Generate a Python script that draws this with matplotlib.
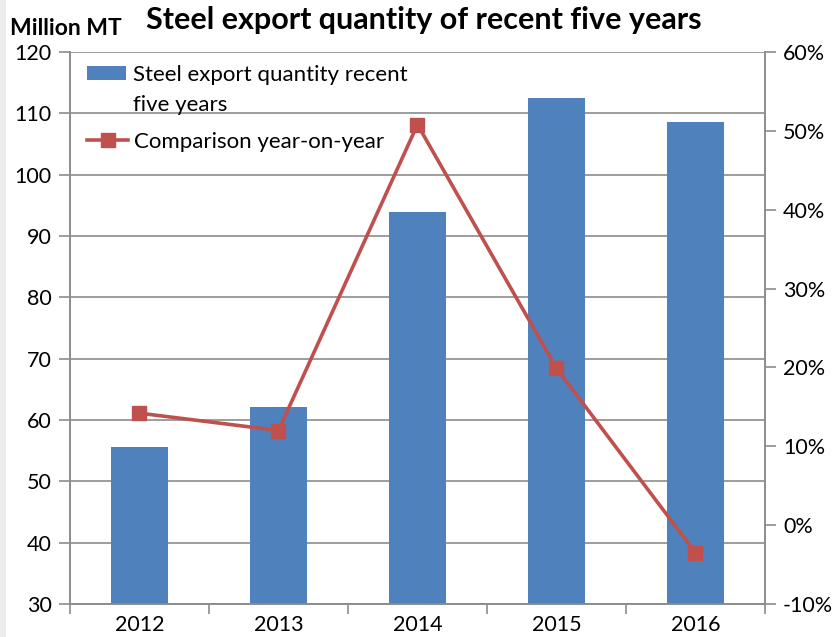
import matplotlib
matplotlib.use("Agg")
import matplotlib.pyplot as plt
import numpy as np
from matplotlib.ticker import FuncFormatter, MultipleLocator
from matplotlib.patches import Patch, Rectangle

years = ["2012", "2013", "2014", "2015", "2016"]
export_qty = [55.6, 62.2, 93.9, 112.5, 108.6]
yoy_pct = [14.2, 12.0, 50.8, 19.9, -3.5]

plt.rcParams['font.family'] = ['Lato', 'DejaVu Sans']

fig = plt.figure(figsize=(8.4, 6.37), dpi=100)
fig.patches.append(Rectangle((0, 0), 0.007, 1, transform=fig.transFigure,
                             facecolor="#ececec", edgecolor="none", zorder=0))
ax = fig.add_axes([0.0833, 0.0518, 0.8274, 0.8666])
ax2 = ax.twinx()

x = np.arange(len(years))
bars = ax.bar(x, export_qty, width=0.41, color="#4F81BD", zorder=2)
ax.set_ylim(30, 120)
ax.set_xlim(-0.5, len(years) - 0.5)
ax.yaxis.set_major_locator(MultipleLocator(10))
ax.grid(axis="y", color="#8c8c8c", linewidth=1.2, zorder=0)
ax.set_axisbelow(True)

line, = ax2.plot(x, yoy_pct, color="#C0504D", linewidth=2.6, marker="s",
                 markersize=10, zorder=3)
ax2.set_ylim(-10, 60)
ax2.yaxis.set_major_locator(MultipleLocator(10))
ax2.yaxis.set_major_formatter(FuncFormatter(lambda v, p: f"{int(round(v))}%"))

ax.set_xticks(x)
ax.set_xticklabels(years)
ax.set_xticks(np.arange(-0.5, len(years) + 0.5, 1), minor=True)
ax.tick_params(axis="x", which="major", length=0, labelsize=15.5, pad=8)
ax.tick_params(axis="x", which="minor", length=7, color="#8c8c8c", width=1.2)
ax.tick_params(axis="y", labelsize=15.5, length=8, color="#8c8c8c", width=1.2, pad=5)
ax2.tick_params(axis="y", labelsize=15.5, length=8, color="#8c8c8c", width=1.2, pad=5)

for a in (ax, ax2):
    a.spines["top"].set_visible(False)
    for s in ("left", "right", "bottom"):
        a.spines[s].set_color("#8c8c8c")
        a.spines[s].set_linewidth(1.2)

blank = Patch(facecolor="none", edgecolor="none")
leg1 = ax2.legend([bars, blank], ["Steel export quantity recent", "five years"],
                  loc="upper left", bbox_to_anchor=(0.0245, 0.977), frameon=False,
                  fontsize=16, handlelength=1.75, handleheight=0.55,
                  handletextpad=0.3, labelspacing=0.45, borderpad=0, borderaxespad=0)
ax2.add_artist(leg1)
leg2 = ax2.legend([line], ["Comparison year-on-year"],
                  loc="center left", bbox_to_anchor=(0.0245, 0.837), frameon=False,
                  fontsize=16, handlelength=1.85, handletextpad=0.25,
                  borderpad=0, borderaxespad=0)

fig.text(0.505, 0.99, "Steel export quantity of recent five years", ha="center", va="top",
         fontsize=22, fontweight="bold")
fig.text(0.012, 0.972, "Million MT", ha="left", va="top", fontsize=16.5, fontweight="bold")

fig.savefig("out.png", dpi=100, facecolor="white")
